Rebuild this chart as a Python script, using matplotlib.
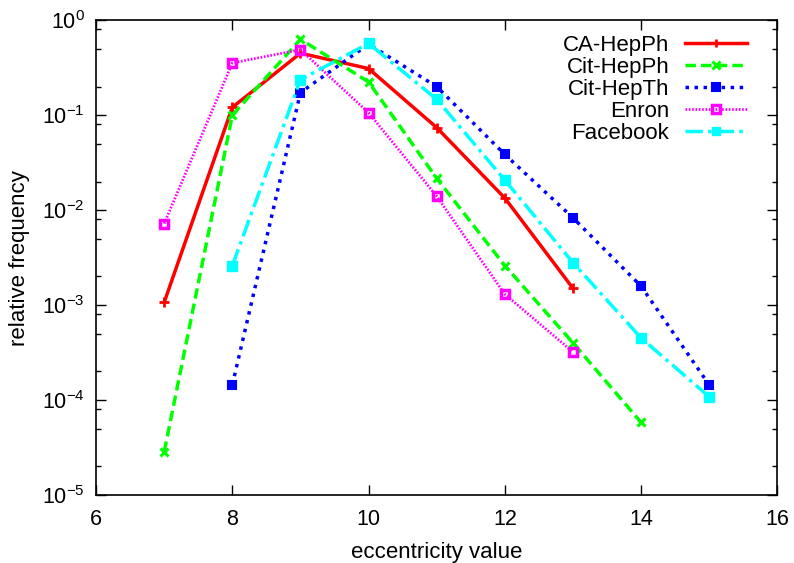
import matplotlib
matplotlib.use("Agg")
import matplotlib.pyplot as plt
from matplotlib.ticker import LogLocator, NullFormatter

plt.rcParams['font.family'] = ['Liberation Sans', 'DejaVu Sans']
plt.rcParams['mathtext.default'] = 'regular'

# data
x_ca = [7, 8, 9, 10, 11, 12, 13]
y_ca = [1.07e-3, 0.121, 0.45, 0.31, 0.074, 0.0134, 1.5e-3]

x_cithepph = [7, 8, 9, 10, 11, 12, 13, 14]
y_cithepph = [2.85e-5, 0.10, 0.63, 0.224, 0.0216, 2.6e-3, 4.0e-4, 5.8e-5]

x_cithepth = [8, 9, 10, 11, 12, 13, 14, 15]
y_cithepth = [1.44e-4, 0.173, 0.56, 0.20, 0.0386, 8.3e-3, 1.58e-3, 1.44e-4]

x_enron = [7, 8, 9, 10, 11, 12, 13]
y_enron = [7.2e-3, 0.355, 0.49, 0.106, 0.014, 1.3e-3, 3.2e-4]

x_fb = [8, 9, 10, 11, 12, 13, 14, 15]
y_fb = [2.6e-3, 0.237, 0.57, 0.147, 0.0207, 2.8e-3, 4.5e-4, 1.08e-4]

fig = plt.figure(figsize=(7.94, 5.63), dpi=100)
ax = fig.add_axes([0.121, 0.121, 0.858, 0.843])

ax.plot(x_ca, y_ca, color='#ff0000', linestyle='-', linewidth=2.5,
        marker='+', markersize=7, markeredgewidth=2, label='CA-HepPh')
ax.plot(x_cithepph, y_cithepph, color='#00ff00', linestyle=(0, (3, 1.5)), linewidth=2.5,
        marker='x', markersize=6, markeredgewidth=2.2, label='Cit-HepPh')
ax.plot(x_cithepth, y_cithepth, color='#0000ff', linestyle=(0, (1, 1.6)), linewidth=2.5,
        marker='s', markersize=6, markeredgewidth=1.5, label='Cit-HepTh')
ax.plot(x_enron, y_enron, color='#ff00ff', linestyle=(0, (0.6, 0.6)), linewidth=2,
        marker='s', markersize=6, markerfacecolor='none', markeredgewidth=2.5, label='Enron')
ax.plot(x_fb, y_fb, color='#00ffff', linestyle=(0, (5, 1.5, 1, 1.5)), linewidth=2.5,
        marker='s', markersize=7, label='Facebook')

ax.set_yscale('log')
ax.set_xlim(6, 16)
ax.set_ylim(1e-5, 1)
ax.set_xticks([6, 8, 10, 12, 14, 16])
ax.yaxis.set_major_locator(LogLocator(base=10, numticks=10))
ax.yaxis.set_minor_locator(LogLocator(base=10, subs=[2, 5, 8], numticks=10))
ax.yaxis.set_minor_formatter(NullFormatter())

ax.tick_params(which='both', direction='in', top=True, right=True, labelsize=15.5)
ax.tick_params(axis='x', pad=10)
ax.tick_params(axis='y', pad=8)
ax.tick_params(which='major', length=7, width=1)
ax.tick_params(which='minor', length=3.5, width=1)
for s in ax.spines.values():
    s.set_linewidth(1.2)

ax.set_xlabel('eccentricity value', fontsize=16, labelpad=9)
ax.set_ylabel('relative frequency', fontsize=16, labelpad=9)

ax.legend(loc='upper right', bbox_to_anchor=(0.985, 1.012), frameon=False, markerfirst=False,
          fontsize=16, handlelength=2.8, labelspacing=0.05, handletextpad=0.7,
          markerscale=0.9)

fig.savefig('out.png', dpi=100)
